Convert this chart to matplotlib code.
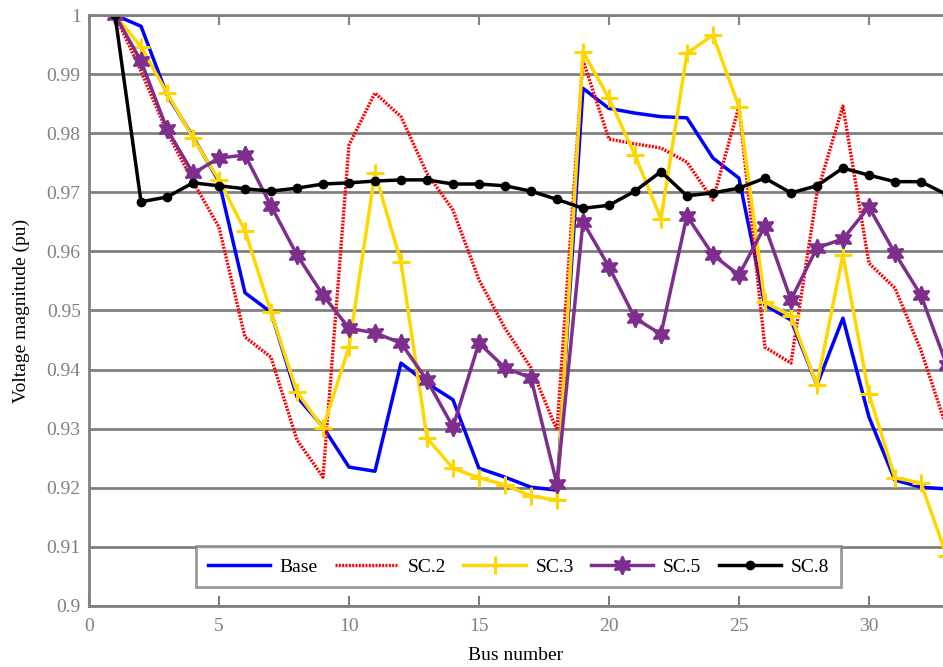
import numpy as np
import matplotlib
matplotlib.use("Agg")
import matplotlib.pyplot as plt

# =============================================================================
# DATA
# =============================================================================
bus = list(range(1, 34))

v_base = [1.0, 0.9981, 0.9865, 0.9794, 0.9718, 0.9530, 0.9497, 0.9354, 0.9303, 0.9235,
          0.9228, 0.9411, 0.9377, 0.9349, 0.9233, 0.9218, 0.9201, 0.9196, 0.9876, 0.9842,
          0.9834, 0.9828, 0.9826, 0.9758, 0.9724, 0.9509, 0.9484, 0.9374, 0.9487, 0.9320,
          0.9213, 0.9201, 0.9198]

v_sc2 = [1.0, 0.9905, 0.9802, 0.9718, 0.9641, 0.9455, 0.9421, 0.9281, 0.9218, 0.9780,
         0.9868, 0.9828, 0.9732, 0.9670, 0.9552, 0.9470, 0.9403, 0.9298, 0.9924, 0.9790,
         0.9782, 0.9775, 0.9751, 0.9687, 0.9845, 0.9438, 0.9411, 0.9698, 0.9846, 0.9580,
         0.9538, 0.9433, 0.9300]

v_sc3 = [1.0, 0.9946, 0.9868, 0.9792, 0.9721, 0.9635, 0.9497, 0.9362, 0.9301, 0.9438,
         0.9733, 0.9582, 0.9284, 0.9233, 0.9217, 0.9205, 0.9186, 0.9179, 0.9938, 0.9859,
         0.9763, 0.9655, 0.9935, 0.9966, 0.9845, 0.9514, 0.9491, 0.9374, 0.9594, 0.9359,
         0.9217, 0.9208, 0.9084]

v_sc5 = [1.0, 0.9922, 0.9807, 0.9732, 0.9758, 0.9763, 0.9677, 0.9594, 0.9526, 0.9470,
         0.9462, 0.9445, 0.9382, 0.9303, 0.9445, 0.9403, 0.9386, 0.9206, 0.9650, 0.9574,
         0.9487, 0.9460, 0.9660, 0.9594, 0.9560, 0.9643, 0.9518, 0.9606, 0.9621, 0.9675,
         0.9597, 0.9526, 0.9407]

v_sc8 = [1.0, 0.9684, 0.9692, 0.9716, 0.9711, 0.9706, 0.9702, 0.9707, 0.9714, 0.9716,
         0.9719, 0.9721, 0.9721, 0.9714, 0.9714, 0.9711, 0.9702, 0.9688, 0.9673, 0.9678,
         0.9702, 0.9735, 0.9694, 0.9699, 0.9707, 0.9724, 0.9699, 0.9711, 0.9741, 0.9729,
         0.9718, 0.9718, 0.9696]

x_ticks = [0, 5, 10, 15, 20, 25, 30]
y_ticks = [0.9, 0.91, 0.92, 0.93, 0.94, 0.95, 0.96, 0.97, 0.98, 0.99, 1.0]
y_tick_labels = ["0.9", "0.91", "0.92", "0.93", "0.94", "0.95", "0.96", "0.97", "0.98", "0.99", "1"]

# =============================================================================
# PLOT
# =============================================================================
plt.rcParams['font.family'] = ['Liberation Serif', 'DejaVu Serif']

GRAY = "#808080"

fig = plt.figure(figsize=(9.43, 6.67), dpi=100)
ax = fig.add_axes([0.0944, 0.0915, 0.9056, 0.886])

ax.plot(bus, v_base, color="#0000FF", lw=2.5, label="Base")
ax.plot(bus, v_sc2, color="#FF0000", lw=2.4, linestyle=(0, (0.6, 0.4)), label="SC.2")
ax.plot(bus, v_sc3, color="#FFD700", lw=2.5, marker="+", markersize=13,
        markeredgewidth=2.2, label="SC.3")
ax.plot(bus, v_sc5, color="#7E2F8E", lw=2.5, marker=(6, 1, 0), markersize=13,
        markeredgewidth=1.5, label="SC.5")
ax.plot(bus, v_sc8, color="black", lw=2.5, marker="o", markersize=6, label="SC.8")

ax.set_xlim(0, 32.85)
ax.set_ylim(0.9, 1.0)
ax.set_xticks(x_ticks)
ax.set_yticks(y_ticks)
ax.set_yticklabels(y_tick_labels)

ax.yaxis.grid(True, color=GRAY, lw=2)
ax.set_axisbelow(True)

for side in ["left", "top", "bottom"]:
    ax.spines[side].set_color(GRAY)
    ax.spines[side].set_linewidth(2)
ax.spines["right"].set_visible(False)

ax.tick_params(axis="x", direction="in", top=True, length=7, width=1.5,
               color=GRAY, labelcolor=GRAY, labelsize=14, pad=9)
ax.tick_params(axis="y", direction="in", length=0, labelcolor=GRAY,
               labelsize=14, pad=6)

ax.set_xlabel("Bus number", fontsize=14, labelpad=8)
ax.set_ylabel("Voltage magnitude (pu)", fontsize=14, labelpad=12)

leg = ax.legend(loc="lower center", ncol=5, fontsize=14, frameon=True, fancybox=False,
                bbox_to_anchor=(0.503, 0.015), handlelength=3.2, columnspacing=0.9,
                handletextpad=0.5, borderpad=0.6)
leg.get_frame().set_edgecolor(GRAY)
leg.get_frame().set_linewidth(2)

plt.savefig("out.png", dpi=100)
